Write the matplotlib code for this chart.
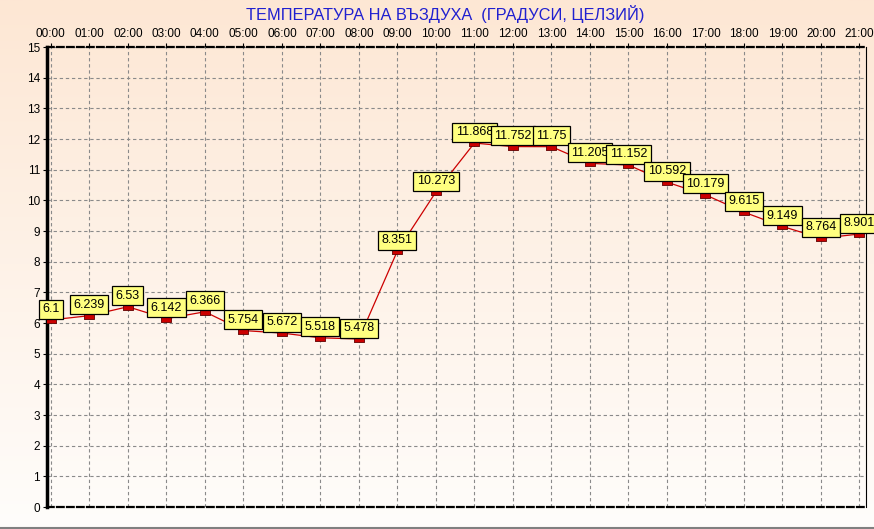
import numpy as np
import matplotlib.pyplot as plt
from matplotlib.path import Path

# data
hours = ["00:00", "01:00", "02:00", "03:00", "04:00", "05:00", "06:00", "07:00",
         "08:00", "09:00", "10:00", "11:00", "12:00", "13:00", "14:00", "15:00",
         "16:00", "17:00", "18:00", "19:00", "20:00", "21:00"]
labels = ["6.1", "6.239", "6.53", "6.142", "6.366", "5.754", "5.672", "5.518",
          "5.478", "8.351", "10.273", "11.868", "11.752", "11.75", "11.205", "11.152",
          "10.592", "10.179", "9.615", "9.149", "8.764", "8.901"]
temps = [float(s) for s in labels]

W, H = 874, 529
fig = plt.figure(figsize=(W / 100, H / 100), dpi=100)

# background gradient
bg = fig.add_axes([0, 0, 1, 1])
grad = np.linspace(0, 1, 256).reshape(-1, 1)
top = np.array([253, 231, 212]) / 255
bot = np.array([255, 253, 251]) / 255
img = top + (bot - top) * grad[..., None]
bg.imshow(np.repeat(img, 2, axis=1), aspect='auto', extent=[0, 1, 0, 1])
bg.axhline(0.002, color='#808080', lw=1.5)
bg.set_xlim(0, 1)
bg.set_ylim(0, 1)
bg.axis('off')

ax = fig.add_axes([47 / W, 22 / H, (866 - 47) / W, (507 - 47) / H])
ax.patch.set_alpha(0)
x = np.arange(len(hours))

ax.plot(x, temps, color='#cc0000', lw=0.9, zorder=3)
rect = Path([(-1, -0.55), (1, -0.55), (1, 0.55), (-1, 0.55), (-1, -0.55)])
ax.plot(x, temps, ls='none', marker=rect, markersize=7.5, mfc='#cc0000',
        mec='#600000', mew=0.6, zorder=4)

for xi, v, s in zip(x, temps, labels):
    ax.annotate(s, (xi, v), xytext=(0, 3.5), textcoords='offset points',
                ha='center', va='bottom', fontsize=9, family='Liberation Sans',
                bbox=dict(boxstyle='square,pad=0.28', fc='#ffff80', ec='black', lw=0.9),
                zorder=5)

ax.set_xlim(-0.1, 21.17)
ax.set_ylim(0, 15)
ax.set_xticks(x)
ax.set_xticklabels(hours)
ax.set_yticks(range(16))
ax.xaxis.tick_top()
ax.tick_params(axis='both', labelsize=8.5, length=3, width=0.8, pad=2)
for t in ax.get_xticklabels() + ax.get_yticklabels():
    t.set_family('Liberation Sans')

ax.grid(True, ls=(0, (3, 2.5)), color='#8a8a8a', lw=0.8)
ax.spines['left'].set_linewidth(2.5)
ax.spines['top'].set_linestyle((0, (3, 1.5)))
ax.spines['top'].set_linewidth(1.6)
ax.spines['bottom'].set_linestyle((0, (3, 1.5)))
ax.spines['bottom'].set_linewidth(1.6)
ax.spines['right'].set_linewidth(0.8)

fig.text(445 / W, 1 - 14 / H, "ТЕМПЕРАТУРА НА ВЪЗДУХА  (ГРАДУСИ, ЦЕЛЗИЙ)",
         ha='center', va='center', color='#2020d0', fontsize=11.8,
         family='Liberation Sans')

fig.savefig('out.png', dpi=100)
